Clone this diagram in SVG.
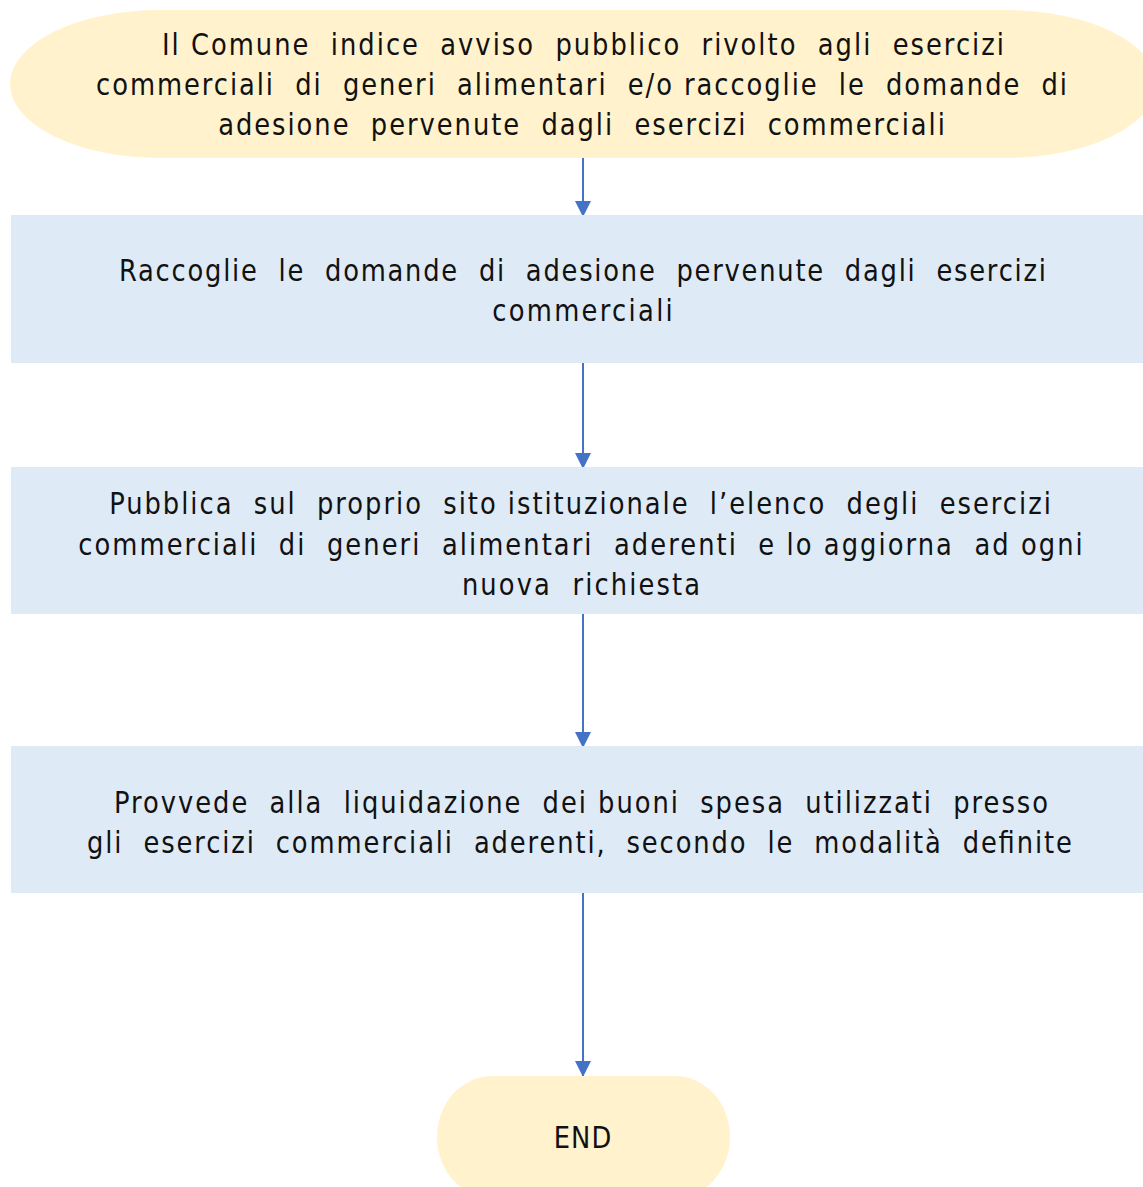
<svg xmlns="http://www.w3.org/2000/svg" width="1143" height="1187" viewBox="0 0 1143 1187">
<defs>
<style>
.term{fill:#FFF2CC;stroke:none}
.proc{fill:#DEEAF6;stroke:none}
.lbl{font-family:"DejaVu Sans",sans-serif;font-size:30px;fill:#111;text-anchor:middle;white-space:pre}
.conn{stroke:#4472C4;stroke-width:2;fill:none}
</style>
<marker id="ah" viewBox="0 0 16 18" refX="16" refY="9" markerWidth="16" markerHeight="18" markerUnits="userSpaceOnUse" orient="auto">
<path d="M0,1 L16,9 L0,17 Z" fill="#4472C4"/>
</marker>
</defs>
<rect width="1143" height="1187" fill="#FFFFFF"/>
<g id="connectors">
<line class="conn" x1="583" y1="158" x2="583" y2="217" marker-end="url(#ah)"/>
<line class="conn" x1="583" y1="363" x2="583" y2="469" marker-end="url(#ah)"/>
<line class="conn" x1="583" y1="614" x2="583" y2="748" marker-end="url(#ah)"/>
<line class="conn" x1="583" y1="893" x2="583" y2="1077" marker-end="url(#ah)"/>
</g>
<g id="start">
<rect class="term" x="10" y="10" width="1146" height="148" rx="150" ry="74"/>
<g transform="scale(0.86 1)">
<text class="lbl" x="677.9" y="55" textLength="979" lengthAdjust="spacing">Il Comune  indice  avviso  pubblico  rivolto  agli  esercizi</text>
<text class="lbl" x="676.2" y="95" textLength="1129" lengthAdjust="spacing">commerciali  di  generi  alimentari  e/o raccoglie  le  domande  di</text>
<text class="lbl" x="676.2" y="135" textLength="845" lengthAdjust="spacing">adesione  pervenute  dagli  esercizi  commerciali</text>
</g>
</g>
<g id="step1">
<rect class="proc" x="11" y="215" width="1145" height="148"/>
<g transform="scale(0.86 1)">
<text class="lbl" x="677.3" y="281" textLength="1078" lengthAdjust="spacing">Raccoglie  le  domande  di  adesione  pervenute  dagli  esercizi</text>
<text class="lbl" x="677.3" y="321" textLength="210" lengthAdjust="spacing">commerciali</text>
</g>
</g>
<g id="step2">
<rect class="proc" x="11" y="467" width="1145" height="147"/>
<g transform="scale(0.86 1)">
<text class="lbl" x="674.4" y="514" textLength="1095" lengthAdjust="spacing">Pubblica  sul  proprio  sito istituzionale  l’elenco  degli  esercizi</text>
<text class="lbl" x="675.0" y="555" textLength="1168" lengthAdjust="spacing">commerciali  di  generi  alimentari  aderenti  e lo aggiorna  ad ogni</text>
<text class="lbl" x="675.6" y="595" textLength="277" lengthAdjust="spacing">nuova  richiesta</text>
</g>
</g>
<g id="step3">
<rect class="proc" x="11" y="746" width="1145" height="147"/>
<g transform="scale(0.86 1)">
<text class="lbl" x="675.6" y="813" textLength="1086" lengthAdjust="spacing">Provvede  alla  liquidazione  dei buoni  spesa  utilizzati  presso</text>
<text class="lbl" x="673.8" y="853" textLength="1145" lengthAdjust="spacing">gli  esercizi  commerciali  aderenti,  secondo  le  modalità  definite</text>
</g>
</g>
<g id="end">
<rect class="term" x="437" y="1076" width="293" height="122" rx="55" ry="61"/>
<g transform="scale(0.86 1)">
<text class="lbl" x="677.3" y="1148" textLength="67" lengthAdjust="spacing">END</text>
</g>
</g>
</svg>
